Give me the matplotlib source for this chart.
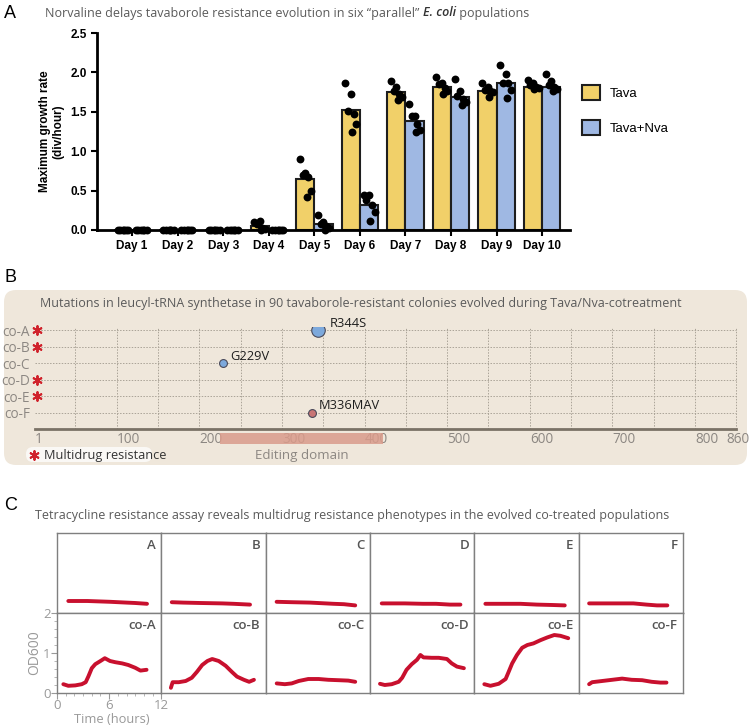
import matplotlib
matplotlib.use('Agg')
import matplotlib.pyplot as plt
import numpy as np
from matplotlib.patches import Patch, FancyBboxPatch, Rectangle
from matplotlib.ticker import MultipleLocator

plt.rcParams['font.family'] = ['Open Sans', 'DejaVu Sans']

# ---- panel A data ----
days = ['Day 1', 'Day 2', 'Day 3', 'Day 4', 'Day 5', 'Day 6', 'Day 7', 'Day 8', 'Day 9', 'Day 10']
tava_mean = [0, 0, 0, 0.05, 0.65, 1.52, 1.75, 1.81, 1.77, 1.82]
nva_mean = [0, 0, 0, 0, 0.07, 0.32, 1.38, 1.69, 1.86, 1.82]
tava_pts = [[0] * 6, [0] * 6, [0] * 6,
            [0.10, 0.12, 0.08, 0.03, 0.01, 0.0],
            [0.90, 0.72, 0.70, 0.67, 0.50, 0.42],
            [1.87, 1.72, 1.51, 1.47, 1.35, 1.25],
            [1.89, 1.82, 1.76, 1.73, 1.69, 1.65],
            [1.94, 1.87, 1.85, 1.80, 1.76, 1.72],
            [1.86, 1.81, 1.78, 1.77, 1.75, 1.69],
            [1.90, 1.86, 1.84, 1.82, 1.80, 1.79]]
nva_pts = [[0] * 6, [0] * 6, [0] * 6, [0] * 6,
           [0.19, 0.10, 0.08, 0.05, 0.02, 0.0],
           [0.45, 0.44, 0.38, 0.32, 0.23, 0.12],
           [1.60, 1.45, 1.45, 1.34, 1.27, 1.25],
           [1.91, 1.77, 1.70, 1.66, 1.62, 1.58],
           [2.10, 1.98, 1.87, 1.87, 1.78, 1.67],
           [1.98, 1.89, 1.84, 1.82, 1.79, 1.76]]
dot_offsets = [-0.12, 0.0, -0.06, 0.06, 0.12, 0.03]

# ---- panel B data ----
rows = ['co-A', 'co-B', 'co-C', 'co-D', 'co-E', 'co-F']
multidrug = ['co-A', 'co-B', 'co-D', 'co-E']
mut_names = ['R344S', 'G229V', 'M336MAV']
mut_pos = [344, 229, 336]
mut_row = ['co-A', 'co-C', 'co-F']
mut_size = [95, 32, 32]
mut_color = ['#7DA9DC', '#7DA9DC', '#C97676']
edit_start, edit_end = 225, 422
pos_ticks = [1, 100, 200, 300, 400, 500, 600, 700, 800, 838]
pos_labels = ['1', '100', '200', '300', '400', '500', '600', '700', '800', '860']

# ---- panel C data ----
top_names = ['A', 'B', 'C', 'D', 'E', 'F']
bot_names = ['co-A', 'co-B', 'co-C', 'co-D', 'co-E', 'co-F']
top_t = [[1.3, 3.5, 6.1, 8.0, 9.0, 10.35],
         [1.2, 2.5, 4.5, 7.0, 8.3, 10.2],
         [1.26, 3.0, 5.1, 7.8, 9.0, 10.3],
         [1.35, 4.0, 6.1, 7.6, 9.2, 10.4],
         [1.27, 3.5, 5.3, 7.2, 9.0, 10.4],
         [1.2, 4.0, 6.3, 7.8, 9.0, 10.2]]
top_od = [[0.30, 0.30, 0.28, 0.26, 0.25, 0.23],
          [0.27, 0.26, 0.25, 0.24, 0.23, 0.21],
          [0.28, 0.27, 0.26, 0.23, 0.22, 0.19],
          [0.24, 0.24, 0.23, 0.23, 0.21, 0.21],
          [0.23, 0.23, 0.23, 0.21, 0.20, 0.19],
          [0.24, 0.24, 0.24, 0.21, 0.19, 0.19]]
bot_t = [[0.73, 1.3, 2.1, 2.85, 3.3, 3.6, 4.0, 4.4, 5.0, 5.5, 6.1, 6.7, 7.5, 8.2, 9.0, 9.6, 10.3],
         [1.1, 1.3, 2.0, 2.8, 3.5, 4.1, 4.7, 5.3, 5.85, 6.6, 7.4, 8.15, 8.7, 9.5, 10.1, 10.65],
         [1.27, 2.2, 3.0, 3.8, 4.9, 6.1, 7.2, 8.4, 9.5, 10.3],
         [1.15, 1.7, 2.5, 3.3, 3.7, 4.2, 4.8, 5.4, 5.8, 6.15, 7.1, 7.9, 8.85, 9.4, 10.0, 10.8],
         [1.15, 1.85, 2.8, 3.6, 3.95, 4.35, 4.9, 5.5, 6.1, 6.8, 7.6, 8.4, 9.2, 9.9, 10.8],
         [1.2, 1.55, 2.7, 3.85, 5.0, 6.1, 7.3, 8.4, 9.4, 10.1]]
bot_od = [[0.22, 0.18, 0.19, 0.22, 0.27, 0.41, 0.62, 0.72, 0.80, 0.87, 0.80, 0.77, 0.74, 0.70, 0.63, 0.56, 0.58],
          [0.13, 0.27, 0.27, 0.30, 0.38, 0.53, 0.70, 0.80, 0.85, 0.80, 0.68, 0.52, 0.41, 0.33, 0.28, 0.33],
          [0.24, 0.22, 0.24, 0.30, 0.35, 0.35, 0.33, 0.32, 0.31, 0.28],
          [0.23, 0.20, 0.22, 0.28, 0.38, 0.58, 0.72, 0.83, 0.95, 0.89, 0.88, 0.88, 0.85, 0.74, 0.66, 0.62],
          [0.22, 0.18, 0.23, 0.35, 0.53, 0.74, 0.95, 1.13, 1.20, 1.24, 1.32, 1.39, 1.45, 1.43, 1.37],
          [0.22, 0.27, 0.30, 0.33, 0.36, 0.33, 0.32, 0.28, 0.26, 0.26]]

W, H = 751, 726
fig = plt.figure(figsize=(W / 100, H / 100), dpi=100)

def fpos(x0, y0, x1, y1):
    # pixel box (top-left origin) -> figure fraction
    return [x0 / W, 1 - y1 / H, (x1 - x0) / W, (y1 - y0) / H]

# background axes in pixel units for titles, beige box
bg = fig.add_axes([0, 0, 1, 1], zorder=-1)
bg.set_xlim(0, W)
bg.set_ylim(H, 0)
bg.axis('off')

title_col = '#5a5a5a'
title_fs = 9
arial = ['Liberation Sans', 'DejaVu Sans']

# ---------------- panel A ----------------
bg.text(4, 13, 'A', fontsize=13, family=arial, va='center')
t1 = bg.text(45, 13, 'Norvaline delays tavaborole resistance evolution in six \u201cparallel\u201d ',
             fontsize=title_fs, color=title_col, va='center')
t2 = bg.annotate('E. coli', xy=(1, 0), xycoords=t1, va='bottom', ha='left',
                 fontsize=title_fs, color='#333333', style='italic', weight='semibold')
bg.annotate(' populations', xy=(1, 0), xycoords=t2, va='bottom', ha='left',
            fontsize=title_fs, color=title_col)

axA = fig.add_axes(fpos(97, 33, 570, 230))
x = np.arange(len(days))
bw = 0.4
axA.bar(x - bw / 2, tava_mean, bw, color='#F1D069', edgecolor='#1e1e1e', linewidth=1.5, zorder=2)
axA.bar(x + bw / 2, nva_mean, bw, color='#9FB8E3', edgecolor='#1e1e1e', linewidth=1.5, zorder=2)
for i in range(len(days)):
    axA.scatter(x[i] - bw / 2 + np.array(dot_offsets), tava_pts[i], s=32, color='black',
                zorder=4, clip_on=False, linewidths=0)
    axA.scatter(x[i] + bw / 2 + np.array(dot_offsets), nva_pts[i], s=32, color='black',
                zorder=4, clip_on=False, linewidths=0)
axA.set_xlim(-0.77, 9.61)
axA.set_ylim(0, 2.5)
axA.spines[['top', 'right']].set_visible(False)
axA.spines[['left', 'bottom']].set_linewidth(2)
axA.set_yticks([0, 0.5, 1.0, 1.5, 2.0, 2.5])
axA.set_yticklabels(['0.0', '0.5', '1.0', '1.5', '2.0', '2.5'], family=arial,
                    fontweight='bold', fontsize=8.5)
axA.set_xticks(x)
axA.set_xticklabels(days, family=arial, fontweight='bold', fontsize=8.5)
axA.tick_params(width=1.5, length=4)
axA.set_ylabel('Maximum growth rate\n(div/hour)', family=arial, fontweight='bold',
               fontsize=8.5, labelpad=4)
axA.legend(handles=[Patch(facecolor='#F1D069', edgecolor='#1e1e1e', linewidth=1.5, label='Tava'),
                    Patch(facecolor='#9FB8E3', edgecolor='#1e1e1e', linewidth=1.5, label='Tava+Nva')],
           loc='upper left', bbox_to_anchor=(1.025, 0.735), frameon=False,
           handlelength=1.35, handleheight=1.4, labelspacing=1.45, handletextpad=0.8,
           borderpad=0, borderaxespad=0, prop={'family': arial, 'size': 9.5})

# ---------------- panel B ----------------
bg.text(4, 277, 'B', fontsize=13, family=arial, va='center')
bg.add_patch(FancyBboxPatch((4, 290), 743, 175, boxstyle='round,pad=0,rounding_size=12',
                            facecolor='#EFE7DB', edgecolor='none'))
bg.text(40, 303, 'Mutations in leucyl-tRNA synthetase in 90 tavaborole-resistant colonies '
        'evolved during Tava/Nva-cotreatment', fontsize=title_fs, color=title_col, va='center')

axB = fig.add_axes(fpos(35, 327, 744.5, 429))
axB.set_facecolor('none')
axB.set_xlim(1, 860)
axB.set_ylim(0, 6.2)
row_y = {r: len(rows) - k for k, r in enumerate(rows)}
axB.vlines(np.arange(50, 851, 50), 0, 6.2, colors='#aaa397', linestyles=(0, (1.5, 1.5)),
           linewidth=0.7, zorder=1)
axB.hlines([row_y[r] for r in rows], 1, 850, colors='#aaa397', linestyles=(0, (1.5, 1.5)),
           linewidth=0.7, zorder=1)
for s in ['top', 'right', 'left']:
    axB.spines[s].set_visible(False)
axB.spines['bottom'].set_bounds(1, 850)
axB.spines['bottom'].set_color('#7a7266')
axB.spines['bottom'].set_linewidth(2)
axB.set_yticks([row_y[r] for r in rows])
axB.set_yticklabels(rows, fontsize=9.8, color='#8c8782')
axB.set_xticks(pos_ticks)
axB.set_xticklabels(pos_labels, fontsize=9.8, color='#8c8782', ha='left')
axB.tick_params(length=0)
axB.tick_params(axis='y', pad=3.5)
axB.tick_params(axis='x', pad=2)
axB.scatter([3] * len(multidrug), [row_y[r] for r in multidrug], marker=(6, 2, 0), s=40,
            color='#D0222B', linewidths=1.4, zorder=5, clip_on=False)
for name, p, r, sz, c in zip(mut_names, mut_pos, mut_row, mut_size, mut_color):
    axB.scatter(p, row_y[r], s=sz, color=c, edgecolor='#4a4a5a', linewidths=0.8, zorder=5)
    dx = 3 if sz < 50 else 6
    axB.annotate(name, (p, row_y[r]), xytext=(dx + 2, 5), textcoords='offset points',
                 fontsize=9.3, color='#1e1e1e', va='center', ha='left')
axB.add_patch(Rectangle((edit_start, -0.91), edit_end - edit_start, 0.69, facecolor='#D99B8B',
                        alpha=0.85, edgecolor='none', clip_on=False, zorder=4))
axB.text((edit_start + edit_end) / 2, -1.6, 'Editing domain', fontsize=9.6, color='#8c8782',
         ha='center', va='center')
bg.add_patch(FancyBboxPatch((26, 447), 126, 15, boxstyle='round,pad=0,rounding_size=7',
                            facecolor='#FAF8F5', edgecolor='none', zorder=2))
bg.scatter([34], [455], marker=(6, 2, 0), s=40, color='#D0222B', linewidths=1.4, zorder=3)
bg.text(44, 455, 'Multidrug resistance', fontsize=9.2, color='#333333', va='center', zorder=3)

# ---------------- panel C ----------------
bg.text(4, 506, 'C', fontsize=13, family=arial, va='center')
bg.text(35, 515, 'Tetracycline resistance assay reveals multidrug resistance phenotypes '
        'in the evolved co-treated populations', fontsize=title_fs, color=title_col, va='center')

cw = (683 - 57) / 6
red = '#C8102E'
for r, (names, ts, ods) in enumerate([(top_names, top_t, top_od), (bot_names, bot_t, bot_od)]):
    for c in range(6):
        y0 = 533 + r * 80
        ax = fig.add_axes(fpos(57 + c * cw, y0, 57 + (c + 1) * cw, y0 + 80))
        ax.set_xlim(0, 12)
        ax.set_ylim(0, 2)
        ax.plot(ts[c], ods[c], color=red, lw=2.8, solid_capstyle='round', solid_joinstyle='round')
        ax.text(0.95, 0.93, names[c], transform=ax.transAxes, ha='right', va='top',
                fontsize=9.5, color='#555555', weight='semibold')
        for s in ax.spines.values():
            s.set_color('#7f7f7f')
            s.set_linewidth(1)
        if r == 1 and c == 0:
            ax.set_xticks([0, 6, 12])
            ax.set_yticks([0, 1, 2])
            ax.xaxis.set_minor_locator(MultipleLocator(1))
            ax.yaxis.set_minor_locator(MultipleLocator(0.2))
            ax.tick_params(which='major', length=4, color='#999999', labelcolor='#999999',
                           labelsize=9.5, pad=0.5)
            ax.tick_params(which='minor', length=2.5, color='#aaaaaa')
            ax.set_ylabel('OD600', fontsize=10, color='#999999', labelpad=1)
        else:
            ax.set_xticks([])
            ax.set_yticks([])

bg.text(112, 719.5, 'Time (hours)', fontsize=9.3, color='#999999', ha='center', va='center')

fig.savefig('out.png', dpi=100)
